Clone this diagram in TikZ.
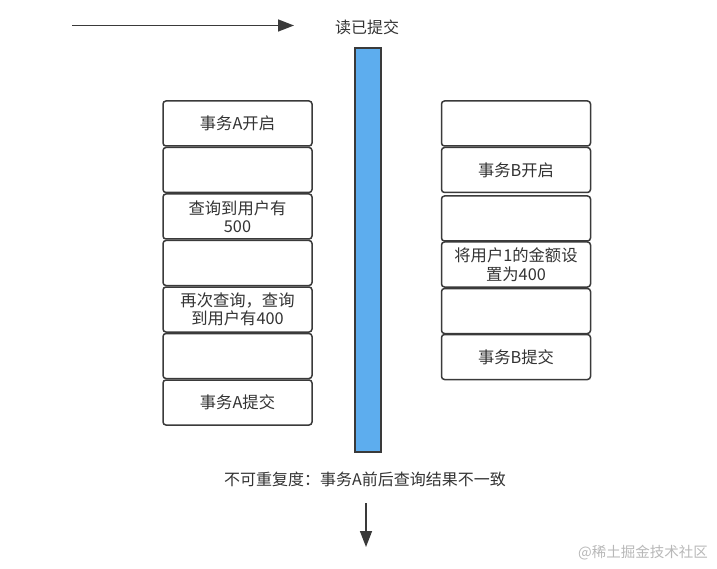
\documentclass[tikz,border=0pt]{standalone}
\usepackage{fontspec}
\setmainfont{Noto Sans CJK SC}
\usetikzlibrary{arrows.meta}
\definecolor{txt}{HTML}{333333}
\definecolor{boxline}{HTML}{3A3A3A}
\definecolor{barfill}{HTML}{5DADEE}
\definecolor{wm}{HTML}{B8B8B8}
\begin{document}
\begin{tikzpicture}[x=1pt,y=-1pt,
  box/.style={draw=boxline, line width=1.5pt, rounded corners=3pt, minimum width=149pt, minimum height=45pt, inner sep=0pt, align=center, font=\fontsize{16.3}{18.5}\selectfont, text=txt, fill=white},
  arr/.style={draw=boxline, line width=1.5pt, -{Triangle[length=16pt,width=12pt]}},
  lbl/.style={text=txt, inner sep=0pt}]
\useasboundingbox (0,0) rectangle (717,569);
% left column
\node[box] (a1) at (237.5,123.5) {事务A开启};
\node[box] (a2) at (237.5,170) {};
\node[box] (a3) at (237.5,216.5) {查询到用户有\\500};
\node[box] (a4) at (237.5,263) {};
\node[box] (a5) at (237.5,309.5) {再次查询，查询\\到用户有400};
\node[box] (a6) at (237.5,356) {};
\node[box] (a7) at (237.5,402.5) {事务A提交};
% right column
\node[box] (b1) at (516,123.5) {};
\node[box] (b2) at (516,170) {事务B开启};
\node[box] (b3) at (516,218.5) {};
\node[box] (b4) at (516,264.5) {将用户1的金额设\\置为400};
\node[box] (b5) at (516,311) {};
\node[box] (b6) at (516,357) {事务B提交};
% blue bar
\node[draw=boxline, line width=1.5pt, fill=barfill, minimum width=26pt, minimum height=404pt, inner sep=0pt] (bar) at (368,250) {};
% title and top arrow
\node[lbl, font=\fontsize{16}{18}\selectfont] (title) at (367,27) {读已提交};
\coordinate (t1) at (72,25.5);
\coordinate (t2) at (294,25.5);
\draw[arr] (t1) -- (t2);
% bottom note and arrow
\node[lbl, font=\fontsize{16}{18}\selectfont] (note) at (365,479) {不可重复度：事务A前后查询结果不一致};
\coordinate (d1) at (366,503);
\coordinate (d2) at (366,547);
\draw[arr] (d1) -- (d2);
% watermark
\node[text=wm, inner sep=0pt, font=\fontsize{14.5}{17}\selectfont] (wmk) at (643,553) {@稀土掘金技术社区};
\end{tikzpicture}
\end{document}
